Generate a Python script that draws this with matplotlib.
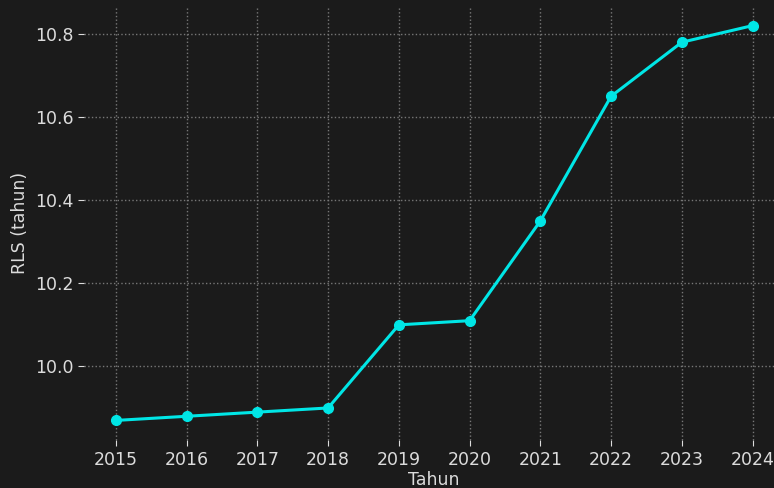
import matplotlib
matplotlib.use('Agg')
import matplotlib.pyplot as plt

# Rata-rata lama sekolah per tahun
tahun = [2015, 2016, 2017, 2018, 2019, 2020, 2021, 2022, 2023, 2024]
rls = [9.87, 9.88, 9.89, 9.90, 10.10, 10.11, 10.35, 10.65, 10.78, 10.82]

bg = '#1b1b1b'
txt = '#dcdcdc'

fig = plt.figure(figsize=(7.74, 4.88), dpi=100, facecolor=bg)
ax = fig.add_axes([0.1085, 0.098, 0.905, 0.89], facecolor=bg)

ax.plot(tahun, rls, color='#00e6e6', linewidth=2.2, marker='o', markersize=7)

ax.set_xticks(tahun)
ax.set_yticks([10.0, 10.2, 10.4, 10.6, 10.8])
ax.grid(True, linestyle=':', color='#777777', linewidth=1.0)
for s in ax.spines.values():
    s.set_visible(False)
ax.tick_params(colors=txt, labelsize=12.5, length=4)

ax.set_xlabel('Tahun', color=txt, fontsize=12.5, labelpad=2)
ax.set_ylabel('RLS (tahun)', color=txt, fontsize=12.5)

fig.savefig('out.png', dpi=100, facecolor=bg)
